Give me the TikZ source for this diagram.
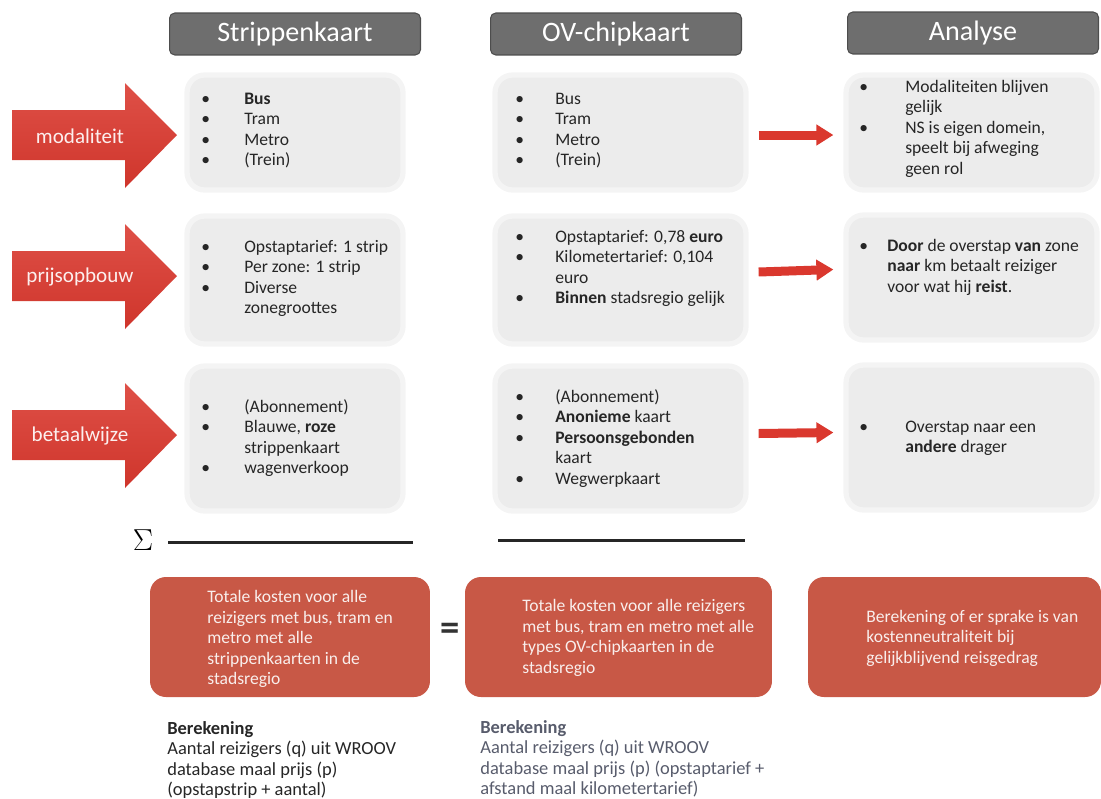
\documentclass[tikz,border=0pt]{standalone}
\usepackage{fontspec}
\setmainfont{Carlito}
\usetikzlibrary{arrows.meta}

\definecolor{kopgrijs}{RGB}{110,110,110}
\definecolor{vakgrijs}{RGB}{236,236,236}
\definecolor{pijlrood}{RGB}{218,56,46}
\definecolor{somrood}{RGB}{200,88,70}
\definecolor{tekstgrijs}{RGB}{38,38,38}
\definecolor{reken2grijs}{RGB}{88,92,108}

% opsomming met vaste inspringing
\newcommand{\opsom}[2]{\begin{tabular}[t]{@{}p{#1}@{}l@{}}#2\end{tabular}}

\tikzset{
  kop/.style={rounded corners=3pt, fill=kopgrijs, draw=kopgrijs!70!black, line width=0.6pt,
    text=white, minimum width=5.02cm, minimum height=0.84cm, font=\fontsize{16}{18}\selectfont},
  vak/.style={rounded corners=10pt, fill=vakgrijs, draw=vakgrijs!60!white, line width=3pt},
  lijst/.style={anchor=base west, inner sep=0pt, text=tekstgrijs, font=\fontsize{10}{11.7}\selectfont},
  pijl/.style={top color=pijlrood!88!white, bottom color=pijlrood!95!black},
  pijltekst/.style={text=white!92!pijlrood, font=\fontsize{12}{14}\selectfont},
  pijltje/.style={line width=0.18cm, draw=pijlrood, -{Triangle[length=0.34cm, width=0.4cm]}},
  som/.style={rounded corners=9pt, fill=somrood, minimum height=2.4cm},
  somtekst/.style={anchor=west, align=left, inner sep=0pt, text=white!90!somrood,
    font=\fontsize{10}{11.7}\selectfont},
  streep/.style={line width=0.06cm, draw=black!85},
  reken/.style={anchor=north west, align=left, inner sep=0pt, text=tekstgrijs,
    font=\fontsize{10.5}{11.7}\selectfont},
}

\begin{document}
\begin{tikzpicture}[x=0.02cm, y=-0.02cm]
\useasboundingbox (0,0) rectangle (1101,798);

% kolomkoppen
\node[kop] (kopSK) at (295,34) {Strippenkaart};
\node[kop] (kopOV) at (616,34) {OV-chipkaart};
\node[kop] (kopAN) at (973,33) {Analyse};

% grote pijlen links
\foreach \y/\naam/\tekst in {135/mod/modaliteit, 276/prijs/prijsopbouw, 435/betaal/betaalwijze}{
  \shade[pijl] (12,\y-25) -- (125,\y-25) -- (125,\y-52) -- (177,\y)
    -- (125,\y+53) -- (125,\y+25) -- (12,\y+25) -- cycle;
  \node[pijltekst] (\naam) at (80,\y+1) {\tekst};
}

% vakken
\node[vak, minimum width=4.32cm, minimum height=2.3cm] (sk1) at (295,132.5) {};
\node[vak, minimum width=4.32cm, minimum height=2.56cm] (sk2) at (295,280) {};
\node[vak, minimum width=4.32cm, minimum height=2.9cm] (sk3) at (295,438.5) {};
\node[vak, minimum width=5.02cm, minimum height=2.3cm] (ov1) at (620.5,132.5) {};
\node[vak, minimum width=5.02cm, minimum height=2.56cm] (ov2) at (620.5,280) {};
\node[vak, minimum width=5.02cm, minimum height=2.9cm] (ov3) at (620.5,438.5) {};
\node[vak, minimum width=5.02cm, minimum height=2.3cm] (an1) at (971.5,132.5) {};
\node[vak, minimum width=5.02cm, minimum height=2.5cm] (an2) at (971.5,277.5) {};
\node[vak, minimum width=5.02cm, minimum height=2.9cm] (an3) at (971.5,437.5) {};

% teksten strippenkaart
\node[lijst] (lsk1) at (201,104) {\opsom{0.86cm}{\textbullet & \textbf{Bus}\\ \textbullet & Tram\\
  \textbullet & Metro\\ \textbullet & (Trein)}};
\node[lijst] (lsk2) at (201,252) {\opsom{0.86cm}{\textbullet & Opstaptarief: 1 strip\\
  \textbullet & Per zone: 1 strip\\ \textbullet & Diverse\\ & zonegroottes}};
\node[lijst] (lsk3) at (201,412) {\opsom{0.86cm}{\textbullet & (Abonnement)\\
  \textbullet & Blauwe, \textbf{roze}\\ & strippenkaart\\ \textbullet & wagenverkoop}};

% teksten ov-chipkaart
\node[lijst] (lov1) at (515,104) {\opsom{0.8cm}{\textbullet & Bus\\ \textbullet & Tram\\
  \textbullet & Metro\\ \textbullet & (Trein)}};
\node[lijst] (lov2) at (515,242) {\opsom{0.8cm}{\textbullet & Opstaptarief: 0,78 \textbf{euro}\\
  \textbullet & Kilometertarief: 0,104\\ & euro\\ \textbullet & \textbf{Binnen} stadsregio gelijk}};
\node[lijst] (lov3) at (515,402) {\opsom{0.8cm}{\textbullet & (Abonnement)\\
  \textbullet & \textbf{Anonieme} kaart\\ \textbullet & \textbf{Persoonsgebonden}\\ & kaart\\
  \textbullet & Wegwerpkaart}};

% teksten analyse
\node[lijst] (lan1) at (859,92) {\opsom{0.92cm}{\textbullet & Modaliteiten blijven\\ & gelijk\\
  \textbullet & NS is eigen domein,\\ & speelt bij afweging\\ & geen rol}};
\node[lijst] (lan2) at (859,251) {\opsom{0.56cm}{\textbullet & \textbf{Door} de overstap \textbf{van} zone\\
  & \textbf{naar} km betaalt reiziger\\ & voor wat hij \textbf{reist}.}};
\node[lijst] (lan3) at (859,432) {\opsom{0.92cm}{\textbullet & Overstap naar een\\
  & \textbf{andere} drager}};

% kleine pijlen
\draw[pijltje] ([xshift=0.2cm, yshift=-0.05cm]ov1.east) -- ([xshift=-0.2cm, yshift=-0.05cm]an1.west);
\draw[pijltje] ([xshift=0.2cm, yshift=0.16cm]ov2.east) -- ([xshift=-0.2cm, yshift=0.16cm]an2.west);
\draw[pijltje] ([xshift=0.2cm, yshift=0.1cm]ov3.east) -- ([xshift=-0.2cm, yshift=0.1cm]an3.west);

% som
\node[font=\fontsize{18}{18}\selectfont] (sigma) at (143,540) {$\Sigma$};
\draw[streep] (168,542) -- (413,542);
\draw[streep] (498,540) -- (745,540);

% totalen
\node[som, minimum width=5.6cm] (som1) at (290,637) {};
\node[som, minimum width=6.14cm] (som2) at (618.5,637) {};
\node[som, minimum width=5.86cm] (som3) at (954.5,637) {};
\node[somtekst] (tsom1) at (207,639) {Totale kosten voor alle\\reizigers met bus, tram en\\
  metro met alle\\strippenkaarten in de\\stadsregio};
\node[somtekst] (tsom2) at (522,638) {Totale kosten voor alle reizigers\\met bus, tram en metro met alle\\
  types OV-chipkaarten in de\\stadsregio};
\node[somtekst] (tsom3) at (866,638) {Berekening of er sprake is van\\kostenneutraliteit bij\\
  gelijkblijvend reisgedrag};
\node[font=\fontsize{22}{22}\selectfont\bfseries, text=black!80] (is) at (450,632) {=};

% berekeningen
\node[reken] (rek1) at (167,721) {\textbf{Berekening}\\Aantal reizigers (q) uit WROOV\\
  database maal prijs (p)\\(opstapstrip + aantal)};
\node[reken, text=reken2grijs] (rek2) at (480,720) {\textbf{Berekening}\\
  Aantal reizigers (q) uit WROOV\\database maal prijs (p) (opstaptarief +\\afstand maal kilometertarief)};
\end{tikzpicture}
\end{document}
